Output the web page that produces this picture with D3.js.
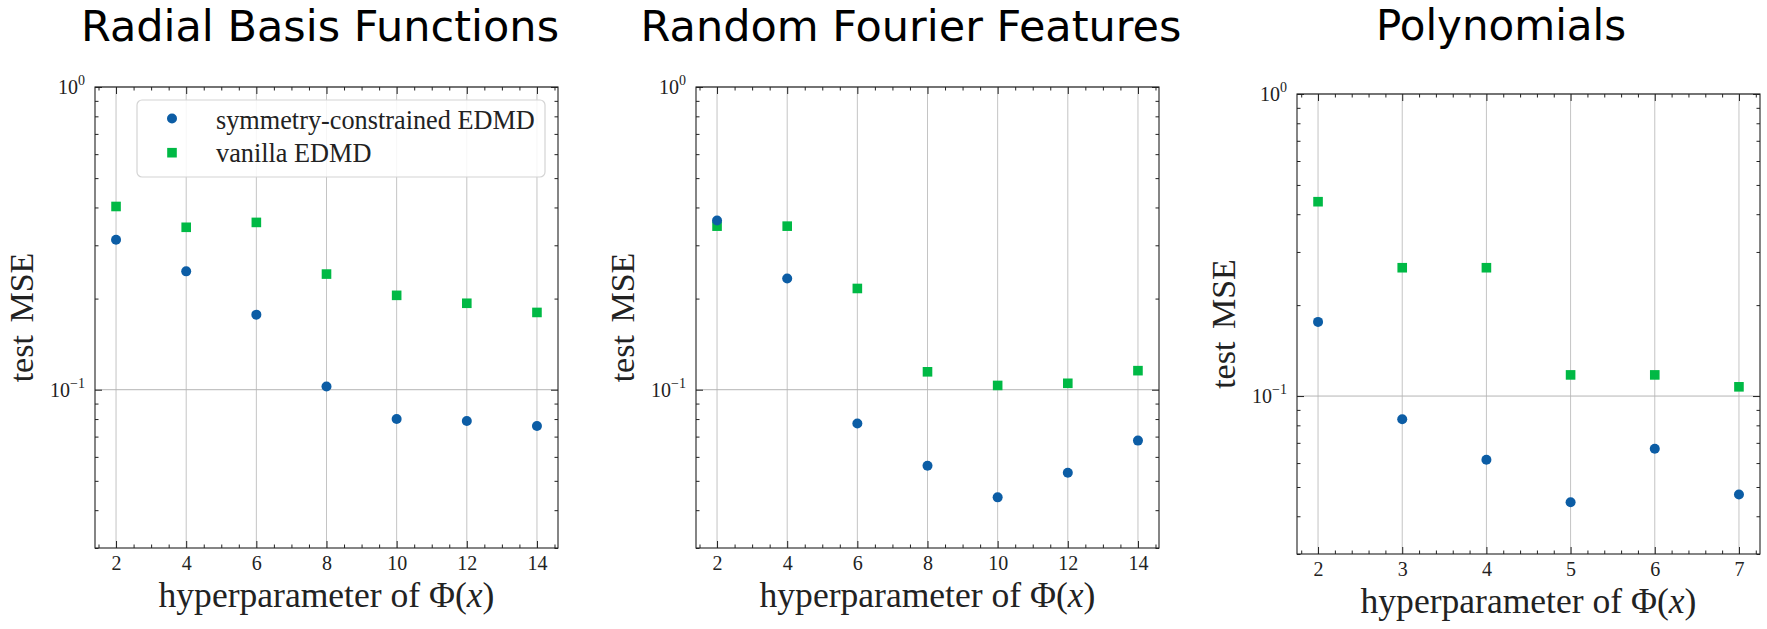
<!DOCTYPE html>
<html>
<head>
<meta charset="utf-8">
<script src="https://cdn.jsdelivr.net/npm/d3@7"></script>
<style>
  body { margin: 0; background: #fff; }
  svg { display: block; }
</style>
</head>
<body>
<svg id="fig" width="1767" height="629"></svg>
<script>
// test MSE
const rbfX = [2, 4, 6, 8, 10, 12, 14];
const rbfSym = [0.313, 0.246, 0.177, 0.1025, 0.080, 0.0788, 0.0759];
const rbfVan = [0.403, 0.344, 0.357, 0.241, 0.205, 0.193, 0.180];

const rffX = [2, 4, 6, 8, 10, 12, 14];
const rffSym = [0.362, 0.233, 0.0773, 0.0561, 0.0441, 0.0532, 0.0679];
const rffVan = [0.347, 0.347, 0.216, 0.1146, 0.1033, 0.105, 0.1156];

const polyX = [2, 3, 4, 5, 6, 7];
const polySym = [0.176, 0.0838, 0.0615, 0.0445, 0.0669, 0.0472];
const polyVan = [0.44, 0.266, 0.266, 0.1175, 0.1175, 0.1073];

const titles = ["Radial Basis Functions", "Random Fourier Features", "Polynomials"];
const legendLabels = ["symmetry-constrained EDMD", "vanilla EDMD"];
const yMajor = [0.1, 1];
const yMajorExp = ["\u22121", "0"];
const yMinor = [0.03, 0.04, 0.05, 0.06, 0.07, 0.08, 0.09, 0.2, 0.3, 0.4, 0.5, 0.6, 0.7, 0.8, 0.9];

const blue = "#0C5DA5", green = "#00B945";
const ink = "#222";
const serif = "'Liberation Serif', 'Times New Roman', serif";

const svg = d3.select("#fig");

// fit a text's font size so its width matches what the picture shows
function fit(sel, target) {
  var len = sel.node().getComputedTextLength();
  var fs = parseFloat(sel.attr("font-size"));
  sel.attr("font-size", fs * target / len);
  return fs * target / len;
}

function steps(a, b, s) {
  var out = [];
  for (var v = a; v <= b + 1e-9; v += s) out.push(Math.round(v * 10) / 10);
  return out;
}

const panels = [
  { title: titles[0], xs: rbfX, sym: rbfSym, van: rbfVan, xdom: [1.4, 14.6],
    minor: steps(1.5, 14.5, 0.5).filter(v => v % 2 != 0),
    l: 95, r: 558, t: 87, b: 548, titleX: 320, titleY: 41, titleSize: 43, legend: true },
  { title: titles[1], xs: rffX, sym: rffSym, van: rffVan, xdom: [1.4, 14.6],
    minor: steps(1.5, 14.5, 0.5).filter(v => v % 2 != 0),
    l: 696, r: 1159, t: 87, b: 548, titleX: 911, titleY: 41, titleSize: 43, legend: false },
  { title: titles[2], xs: polyX, sym: polySym, van: polyVan, xdom: [1.75, 7.25],
    minor: steps(1.8, 7.2, 0.2).filter(v => Math.abs(v - Math.round(v)) > 1e-6),
    l: 1297, r: 1760, t: 94, b: 554, titleX: 1501, titleY: 40, titleSize: 42, legend: false }
];

panels.forEach(function(p) {
  var g = svg.append("g");
  var x = d3.scaleLinear().domain(p.xdom).range([p.l, p.r]);
  var y = d3.scaleLog().domain([0.03, 1]).range([p.b, p.t]);

  // grid
  g.append("g").selectAll("line").data(p.xs).join("line")
    .attr("x1", d => x(d)).attr("x2", d => x(d))
    .attr("y1", p.t).attr("y2", p.b)
    .attr("stroke", "#c4c4c4").attr("stroke-width", 1);
  g.append("g").selectAll("line").data(yMajor).join("line")
    .attr("x1", p.l).attr("x2", p.r)
    .attr("y1", d => y(d)).attr("y2", d => y(d))
    .attr("stroke", "#b4b4b4").attr("stroke-width", 1);

  // ticks, all pointing inward
  function ax(axis, tx, ty) {
    var a = g.append("g").attr("transform", "translate(" + tx + "," + ty + ")").call(axis);
    a.select(".domain").remove();
    a.selectAll(".tick line").attr("stroke", ink).attr("stroke-width", 1);
    return a;
  }
  var bottom = ax(d3.axisBottom(x).tickValues(p.xs).tickSize(-7).tickPadding(8).tickFormat(d3.format("d")), 0, p.b);
  bottom.selectAll(".tick text").attr("font-family", serif).attr("font-size", 20).attr("fill", ink);
  ax(d3.axisBottom(x).tickValues(p.minor).tickSize(-3.5).tickFormat(""), 0, p.b);
  ax(d3.axisTop(x).tickValues(p.xs).tickSize(-7).tickFormat(""), 0, p.t);
  ax(d3.axisTop(x).tickValues(p.minor).tickSize(-3.5).tickFormat(""), 0, p.t);
  ax(d3.axisLeft(y).tickValues(yMajor).tickSize(-7).tickFormat(""), p.l, 0);
  ax(d3.axisLeft(y).tickValues(yMinor).tickSize(-3.5).tickFormat(""), p.l, 0);
  ax(d3.axisRight(y).tickValues(yMajor).tickSize(-7).tickFormat(""), p.r, 0);
  ax(d3.axisRight(y).tickValues(yMinor).tickSize(-3.5).tickFormat(""), p.r, 0);

  // 10^k labels
  yMajor.forEach(function(v, i) {
    var t = g.append("text")
      .attr("x", p.l - 10).attr("y", y(v) + 7)
      .attr("text-anchor", "end")
      .attr("font-family", serif).attr("font-size", 20).attr("fill", ink);
    t.append("tspan").text("10");
    t.append("tspan").attr("font-size", 14).attr("dy", -9).text(yMajorExp[i]);
  });

  // frame
  g.append("rect").attr("x", p.l).attr("y", p.t)
    .attr("width", p.r - p.l).attr("height", p.b - p.t)
    .attr("fill", "none").attr("stroke", ink).attr("stroke-width", 1.1);

  // markers
  g.append("g").selectAll("rect").data(p.xs).join("rect")
    .attr("x", d => x(d) - 4.8)
    .attr("y", (d, i) => y(p.van[i]) - 4.8)
    .attr("width", 9.6).attr("height", 9.6)
    .attr("fill", green);
  g.append("g").selectAll("circle").data(p.xs).join("circle")
    .attr("cx", d => x(d))
    .attr("cy", (d, i) => y(p.sym[i]))
    .attr("r", 5)
    .attr("fill", blue);

  // axis labels
  var xl = g.append("text")
    .attr("x", (p.l + p.r) / 2).attr("y", p.b + 59)
    .attr("text-anchor", "middle")
    .attr("font-family", serif).attr("font-size", 32).attr("fill", ink);
  xl.append("tspan").text("hyperparameter of \u03A6(");
  xl.append("tspan").attr("font-style", "italic").text("x");
  xl.append("tspan").text(")");
  fit(xl, 336);

  var yl = g.append("text")
    .attr("transform", "translate(" + (p.l - 62) + "," + ((p.t + p.b) / 2) + ") rotate(-90)")
    .attr("text-anchor", "middle")
    .attr("font-family", serif).attr("font-size", 32).attr("fill", ink)
    .attr("word-spacing", 4)
    .text("test MSE");
  fit(yl, 130);

  // title
  svg.append("text")
    .attr("x", p.titleX).attr("y", p.titleY)
    .attr("text-anchor", "middle")
    .attr("font-family", "'DejaVu Sans', sans-serif").attr("font-size", p.titleSize)
    .attr("fill", "#000")
    .text(p.title);

  if (p.legend) {
    var lg = g.append("g");
    lg.append("rect").attr("x", 137).attr("y", 100).attr("width", 408).attr("height", 77)
      .attr("rx", 5).attr("fill", "#fff").attr("fill-opacity", 0.85)
      .attr("stroke", "#d4d4d4").attr("stroke-width", 1.2);
    lg.append("circle").attr("cx", 172).attr("cy", 118.5).attr("r", 5).attr("fill", blue);
    lg.append("rect").attr("x", 172 - 4.8).attr("y", 152.7 - 4.8)
      .attr("width", 9.6).attr("height", 9.6).attr("fill", green);
    var t1 = lg.append("text").attr("x", 216).attr("y", 128.5)
      .attr("font-family", serif).attr("font-size", 24).attr("fill", ink)
      .text(legendLabels[0]);
    var fs = fit(t1, 319);
    lg.append("text").attr("x", 216).attr("y", 162)
      .attr("font-family", serif).attr("font-size", fs).attr("fill", ink)
      .text(legendLabels[1]);
  }
});
</script>
</body>
</html>
